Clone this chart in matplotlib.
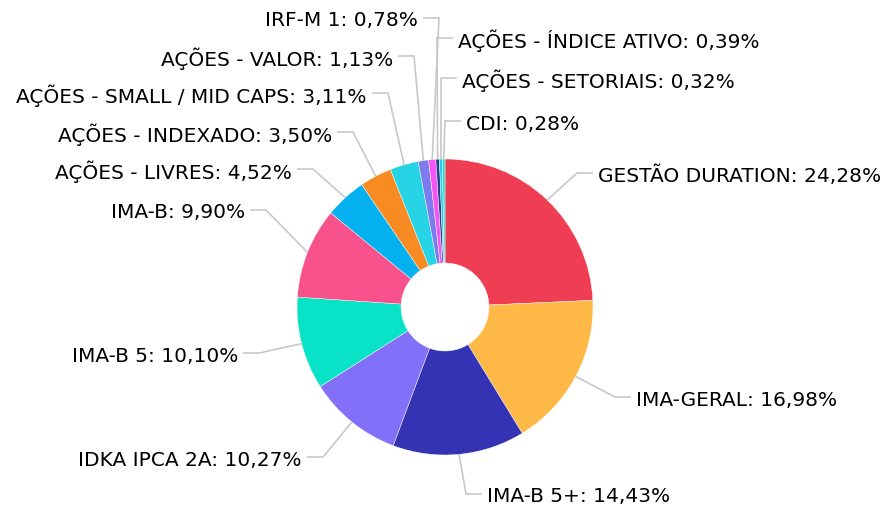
import numpy as np
import matplotlib.pyplot as plt

# allocation per fund category (%), clockwise from 12 o'clock
categories = [
    "GESTÃO DURATION", "IMA-GERAL", "IMA-B 5+", "IDKA IPCA 2A", "IMA-B 5",
    "IMA-B", "AÇÕES - LIVRES", "AÇÕES - INDEXADO", "AÇÕES - SMALL / MID CAPS",
    "AÇÕES - VALOR", "IRF-M 1", "AÇÕES - ÍNDICE ATIVO", "AÇÕES - SETORIAIS", "CDI",
]
values = [24.28, 16.98, 14.43, 10.27, 10.10, 9.90, 4.52, 3.50, 3.11, 1.13, 0.78, 0.39, 0.32, 0.28]
colors = [
    "#EF3E54", "#FFB946", "#3333B3", "#8370F9", "#08E2C6", "#F7528B", "#03B0F0",
    "#F88C22", "#26D4E6", "#7C7CEE", "#F455F5", "#2C3E8C", "#22CFEA", "#23E0C8",
]

# label layout in pixels (x of text edge, y from top, side)
label_x = [598, 636, 487, 302, 238, 245, 292, 332, 367, 393, 418, 458, 462, 466]
label_y = [176, 400, 497, 460, 356, 213, 172, 135, 96, 59, 21, 41, 81, 124]
label_side = ["r", "r", "r", "l", "l", "l", "l", "l", "l", "l", "l", "r", "r", "r"]

W, H = 887, 512
cx, cy = 445, H - 307
R, r_hole = 148, 44

fig = plt.figure(figsize=(W / 100, H / 100), dpi=100)
ax = fig.add_axes([0, 0, 1, 1])

ax.pie(values, colors=colors, startangle=90, counterclock=False,
       center=(cx, cy), radius=R,
       wedgeprops=dict(width=R - r_hole, edgecolor="white", linewidth=0.3))

total = sum(values)
cum = np.cumsum([0] + values[:-1])
for i, (cat, v) in enumerate(zip(categories, values)):
    mid = (cum[i] + v / 2) / total * 2 * np.pi
    sx = cx + R * np.sin(mid)
    sy = cy + R * np.cos(mid)
    ty = H - label_y[i]
    ly = ty + 3
    if label_side[i] == "r":
        ex = label_x[i] - 6
        bx = ex - 15
        ha = "left"
    else:
        ex = label_x[i] + 6
        bx = ex + 15
        ha = "right"
    ax.plot([sx, bx, ex], [sy, ly, ly], color="#C8C8C8", lw=1.2,
            solid_joinstyle="miter", zorder=0)
    txt = f"{cat}: {v:.2f}%".replace(".", ",")
    ax.text(label_x[i], ty, txt, ha=ha, va="center", fontsize=14.5,
            family="DejaVu Sans", color="black")

ax.set_xlim(0, W)
ax.set_ylim(0, H)
ax.set_aspect("auto")
ax.axis("off")

fig.savefig("out.png", dpi=100, facecolor="white")
